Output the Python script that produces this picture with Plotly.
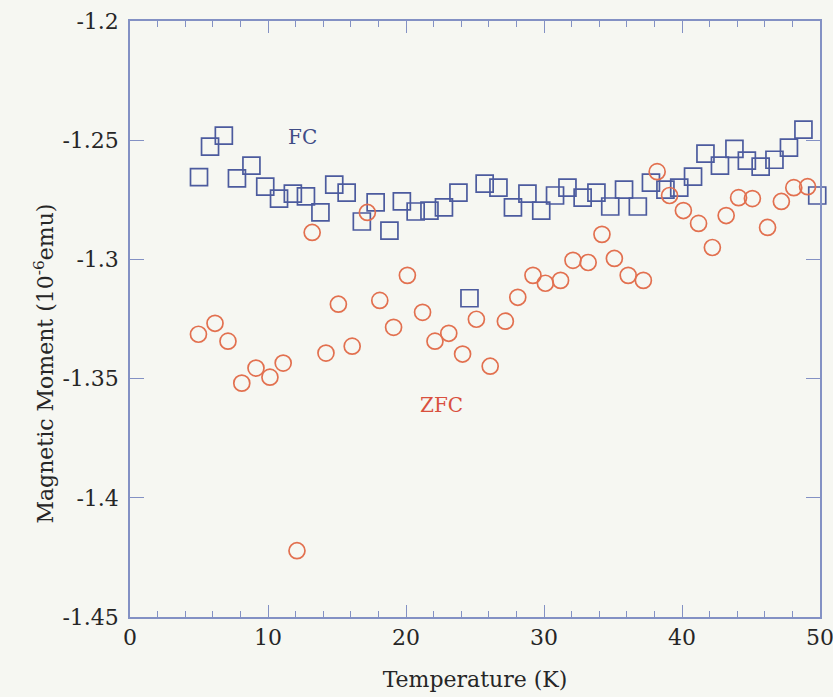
import plotly.graph_objects as go

# FC data (squares)
fc_T = [5.0, 5.8, 6.8, 7.75, 8.8, 9.8, 10.8, 11.8, 12.75, 13.8, 14.8, 15.7, 16.8, 17.8, 18.8,
        19.7, 20.7, 21.7, 22.75, 23.8, 24.6, 25.7, 26.7, 27.75, 28.8, 29.8, 30.8, 31.7, 32.8,
        33.8, 34.8, 35.8, 36.8, 37.75, 38.8, 39.8, 40.8, 41.7, 42.75, 43.8, 44.7, 45.7, 46.7,
        47.75, 48.8, 49.8]
fc_M = [-1.2655, -1.2527, -1.2481, -1.2660, -1.2607, -1.2695, -1.2745, -1.2724, -1.2736, -1.2803,
        -1.2686, -1.2720, -1.2841, -1.2761, -1.2879, -1.2757, -1.2799, -1.2795, -1.2782, -1.2720,
        -1.3163, -1.2682, -1.2699, -1.2782, -1.2724, -1.2795, -1.2732, -1.2699, -1.2741, -1.2720,
        -1.2778, -1.2707, -1.2778, -1.2678, -1.2707, -1.2699, -1.2653, -1.2556, -1.2607, -1.2536,
        -1.2586, -1.2611, -1.2582, -1.2531, -1.2456, -1.2732]

# ZFC data (circles)
zfc_T = [4.96, 6.16, 7.1, 8.1, 9.13, 10.14, 11.1, 12.1, 13.2, 14.2, 15.1, 16.1, 17.2, 18.1, 19.1,
         20.1, 21.2, 22.1, 23.1, 24.1, 25.1, 26.1, 27.2, 28.1, 29.2, 30.1, 31.2, 32.1, 33.2, 34.2,
         35.1, 36.1, 37.2, 38.2, 39.1, 40.1, 41.2, 42.2, 43.2, 44.1, 45.1, 46.2, 47.2, 48.1, 49.1]
zfc_M = [-1.3314, -1.3268, -1.3343, -1.3519, -1.3456, -1.3494, -1.3435, -1.4222, -1.2887, -1.3393,
         -1.3188, -1.3364, -1.2803, -1.3172, -1.3285, -1.3067, -1.3222, -1.3343, -1.3310, -1.3397,
         -1.3251, -1.3448, -1.3259, -1.3159, -1.3067, -1.3100, -1.3088, -1.3004, -1.3013, -1.2895,
         -1.2996, -1.3067, -1.3088, -1.2632, -1.2732, -1.2795, -1.2849, -1.2950, -1.2816, -1.2741,
         -1.2745, -1.2866, -1.2757, -1.2699, -1.2695]

y_tickvals = [-1.2, -1.25, -1.3, -1.35, -1.4, -1.45]
y_ticktext = ["-1.2", "-1.25", "-1.3", "-1.35", "-1.4", "-1.45"]
x_tickvals = [0, 10, 20, 30, 40, 50]

FONT = "DejaVu Serif"
AXC = "#8391c4"
BG = "#f6f7f2"
TXT = "#262626"

fig = go.Figure()
fig.add_trace(go.Scatter(x=fc_T, y=fc_M, mode="markers", name="FC", cliponaxis=False,
                         marker=dict(symbol="square-open", size=17, color="#4c5b9e",
                                     line=dict(width=1.7, color="#4c5b9e"))))
fig.add_trace(go.Scatter(x=zfc_T, y=zfc_M, mode="markers", name="ZFC", cliponaxis=False,
                         marker=dict(symbol="circle-open", size=16, color="#e2704f",
                                     line=dict(width=1.7, color="#e2704f"))))

fig.add_annotation(x=12.5, y=-1.2485, text="FC", showarrow=False,
                   font=dict(family=FONT, size=20, color="#3f4c86"))
fig.add_annotation(x=22.6, y=-1.361, text="ZFC", showarrow=False,
                   font=dict(family=FONT, size=20, color="#d9503e"))
fig.add_annotation(xref="paper", yref="paper", x=-0.148, y=0.425, textangle=-90,
                   text="Magnetic Moment (10<sup>-6</sup>emu)", showarrow=False,
                   font=dict(family=FONT, size=22, color=TXT))

fig.update_layout(
    width=833, height=697,
    margin=dict(l=130, r=13, t=21, b=80),
    paper_bgcolor=BG, plot_bgcolor=BG,
    showlegend=False,
    font=dict(family=FONT, size=22, color=TXT),
    xaxis=dict(range=[0, 50], tickvals=x_tickvals, ticks="inside", ticklen=12,
               tickcolor=AXC, tickwidth=1.3, showline=True, linecolor=AXC, linewidth=1.5,
               mirror="allticks", showgrid=False, zeroline=False, automargin=False,
               ticklabeloverflow="allow",
               minor=dict(ticks="inside", dtick=2, ticklen=6, tickcolor=AXC, tickwidth=1.2),
               tickfont=dict(family=FONT, size=22),
               title=dict(text="Temperature (K)", font=dict(family=FONT, size=22), standoff=22)),
    yaxis=dict(range=[-1.45, -1.2], tickvals=y_tickvals, ticktext=y_ticktext,
               ticks="inside", ticklen=14, tickcolor=AXC, tickwidth=1.3,
               showline=True, linecolor=AXC, linewidth=1.5, mirror="allticks",
               showgrid=False, zeroline=False, automargin=False,
               ticklabelstandoff=5, ticklabeloverflow="allow",
               tickfont=dict(family=FONT, size=22)),
)

fig.write_html("out.html")
